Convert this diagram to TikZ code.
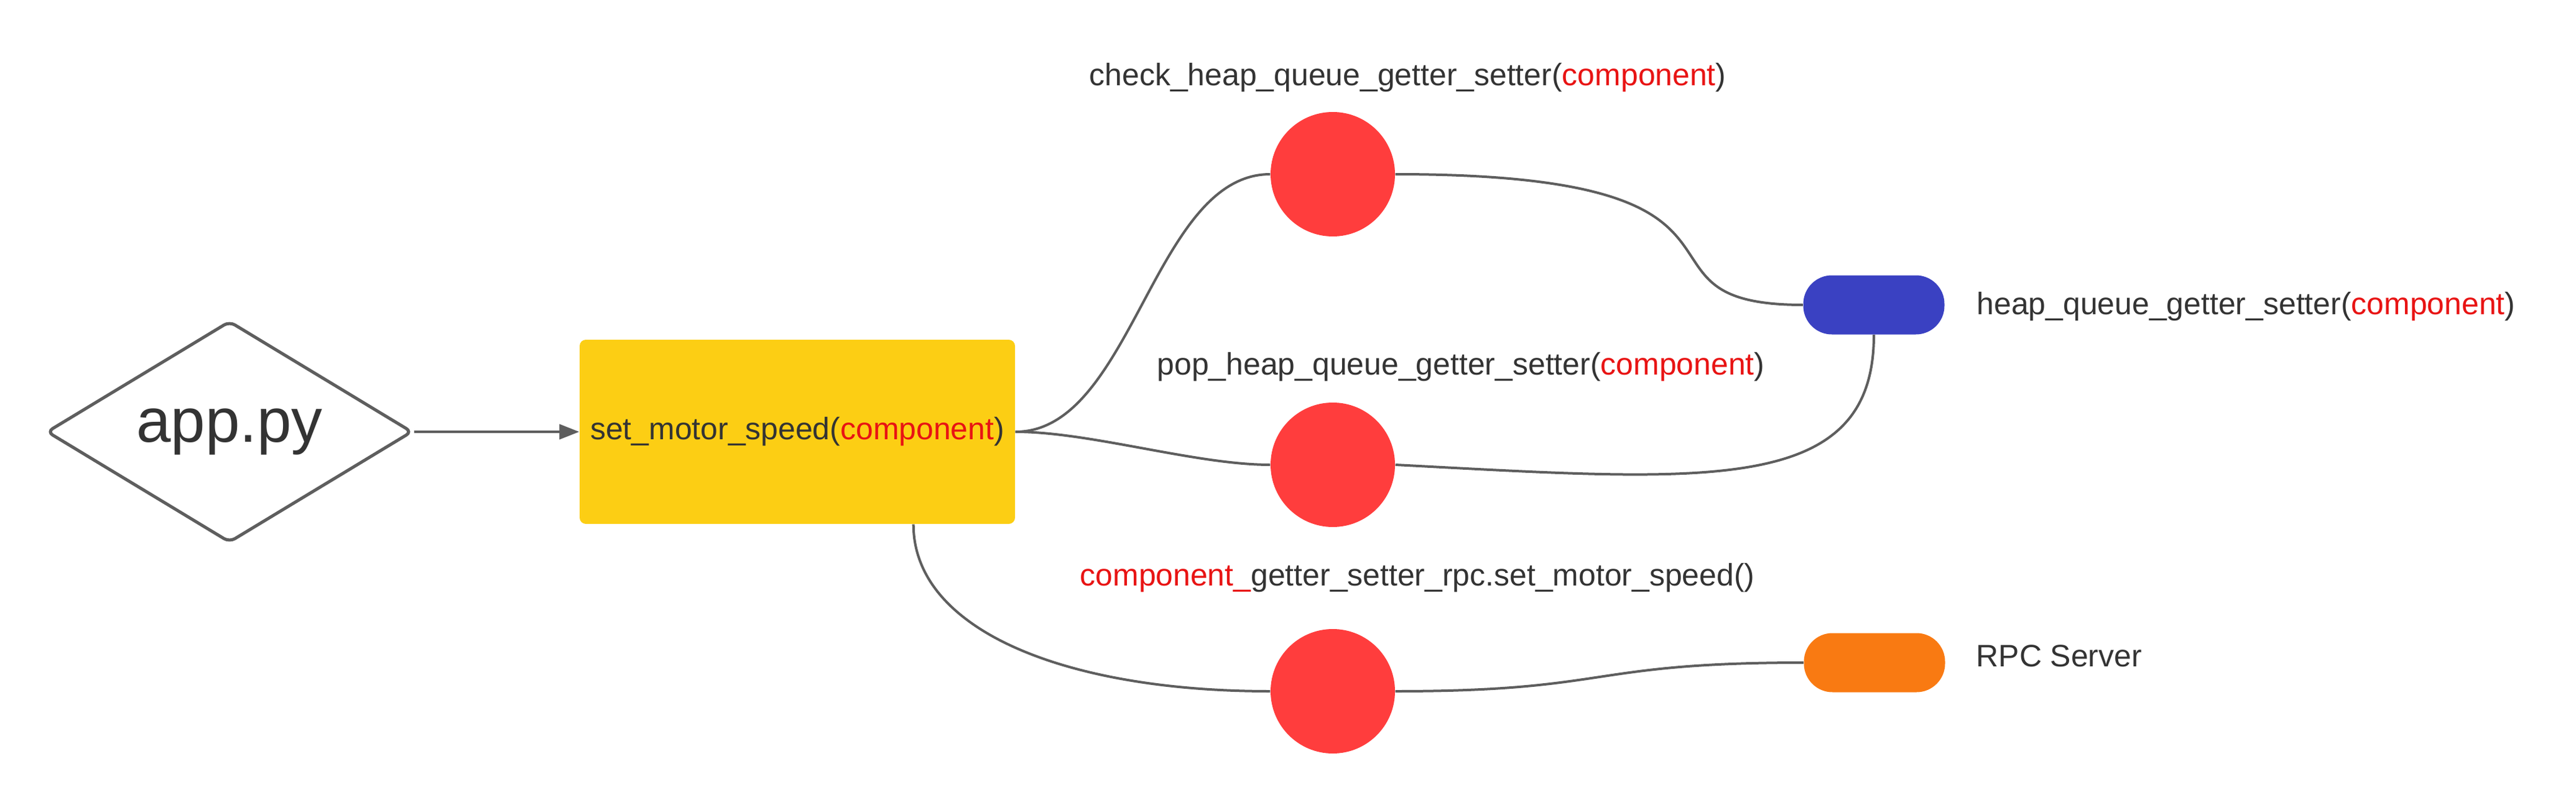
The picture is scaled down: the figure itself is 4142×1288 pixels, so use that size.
\documentclass[tikz,border=0pt]{standalone}
\usepackage{fontspec}
\setmainfont{Liberation Sans}
\usetikzlibrary{shapes.geometric,arrows.meta}
\definecolor{edge}{HTML}{5E5E5E}
\definecolor{ink}{HTML}{333333}
\definecolor{hot}{HTML}{E81313}
\definecolor{lucidyellow}{HTML}{FCCE14}
\definecolor{lucidred}{HTML}{FF3D3D}
\definecolor{lucidblue}{HTML}{3A41C2}
\definecolor{lucidorange}{HTML}{F97A12}
\newcommand{\comp}{\textcolor{hot}{component}}

\begin{document}
\begin{tikzpicture}[x=0.1mm,y=0.1mm,
  font=\fontsize{14.2pt}{17pt}\selectfont, text=ink,
  dot/.style={circle,fill=lucidred,minimum size=20mm,inner sep=0},
  pill/.style={rounded corners=4.6mm,minimum width=22.7mm,minimum height=9.5mm,inner sep=0},
  lbl/.style={anchor=base west,inner sep=0},
  wire/.style={draw=edge,line width=0.4mm}]
\useasboundingbox (0,0) rectangle (4142,1288);

\node[diamond,aspect=1.2,draw=edge,line width=0.5mm,minimum width=58.8mm,minimum height=35.6mm,inner sep=0,
  rounded corners=1mm,font=\fontsize{28.4pt}{34pt}\selectfont] (app) at (369,594) {\raisebox{-1.1mm}{app.py}};
\node[fill=lucidyellow,rounded corners=1mm,minimum width=70mm,minimum height=29.6mm,inner sep=0]
  (speed) at (1282,594) {set\_motor\_speed(\comp)};
\coordinate (speedout) at ([xshift=-16.4mm]speed.south east);

\node[dot] (chk) at (2143,1008) {};
\node[dot] (pop) at (2143,541) {};
\node[dot] (rpc) at (2143,177) {};
\node[pill,fill=lucidblue] (hq) at (3013,798) {};
\node[pill,fill=lucidorange] (srv) at (3014,223) {};

\node[lbl] (chklbl) at (1751,1150) {check\_heap\_queue\_getter\_setter(\comp)};
\node[lbl] (poplbl) at (1860,686) {pop\_heap\_queue\_getter\_setter(\comp)};
\node[lbl] (rpclbl) at (1736,347) {\textcolor{hot}{component\_}getter\_setter\_rpc.set\_motor\_speed()};
\node[lbl] (hqlbl) at (3178,783) {heap\_queue\_getter\_setter(\comp)};
\node[lbl] (srvlbl) at (3177,217) {RPC Server};

\draw[edge,line width=0.4mm,-{Triangle[length=3.2mm,width=2.4mm]}] (app.east) -- (speed.west);
\draw[wire] (speed.east) to[out=0,in=180,out distance=18.8mm,in distance=18.8mm] (chk.west);
\draw[wire] (chk.east) to[out=0,in=180,out distance=65.8mm,in distance=31.4mm] (hq.west);
\draw[wire] (speed.east) to[out=0,in=180,out distance=12mm,in distance=12mm] (pop.west);
\draw[wire] (pop.east) to[out=-3,in=-90,out distance=50mm,in distance=26mm] (hq.south);
\draw[wire] (speedout) to[out=-90,in=180,out distance=17mm,in distance=33mm] (rpc.west);
\draw[wire] (rpc.east) to[out=0,in=180,out distance=35mm,in distance=35mm] (srv.west);
\end{tikzpicture}
\end{document}
